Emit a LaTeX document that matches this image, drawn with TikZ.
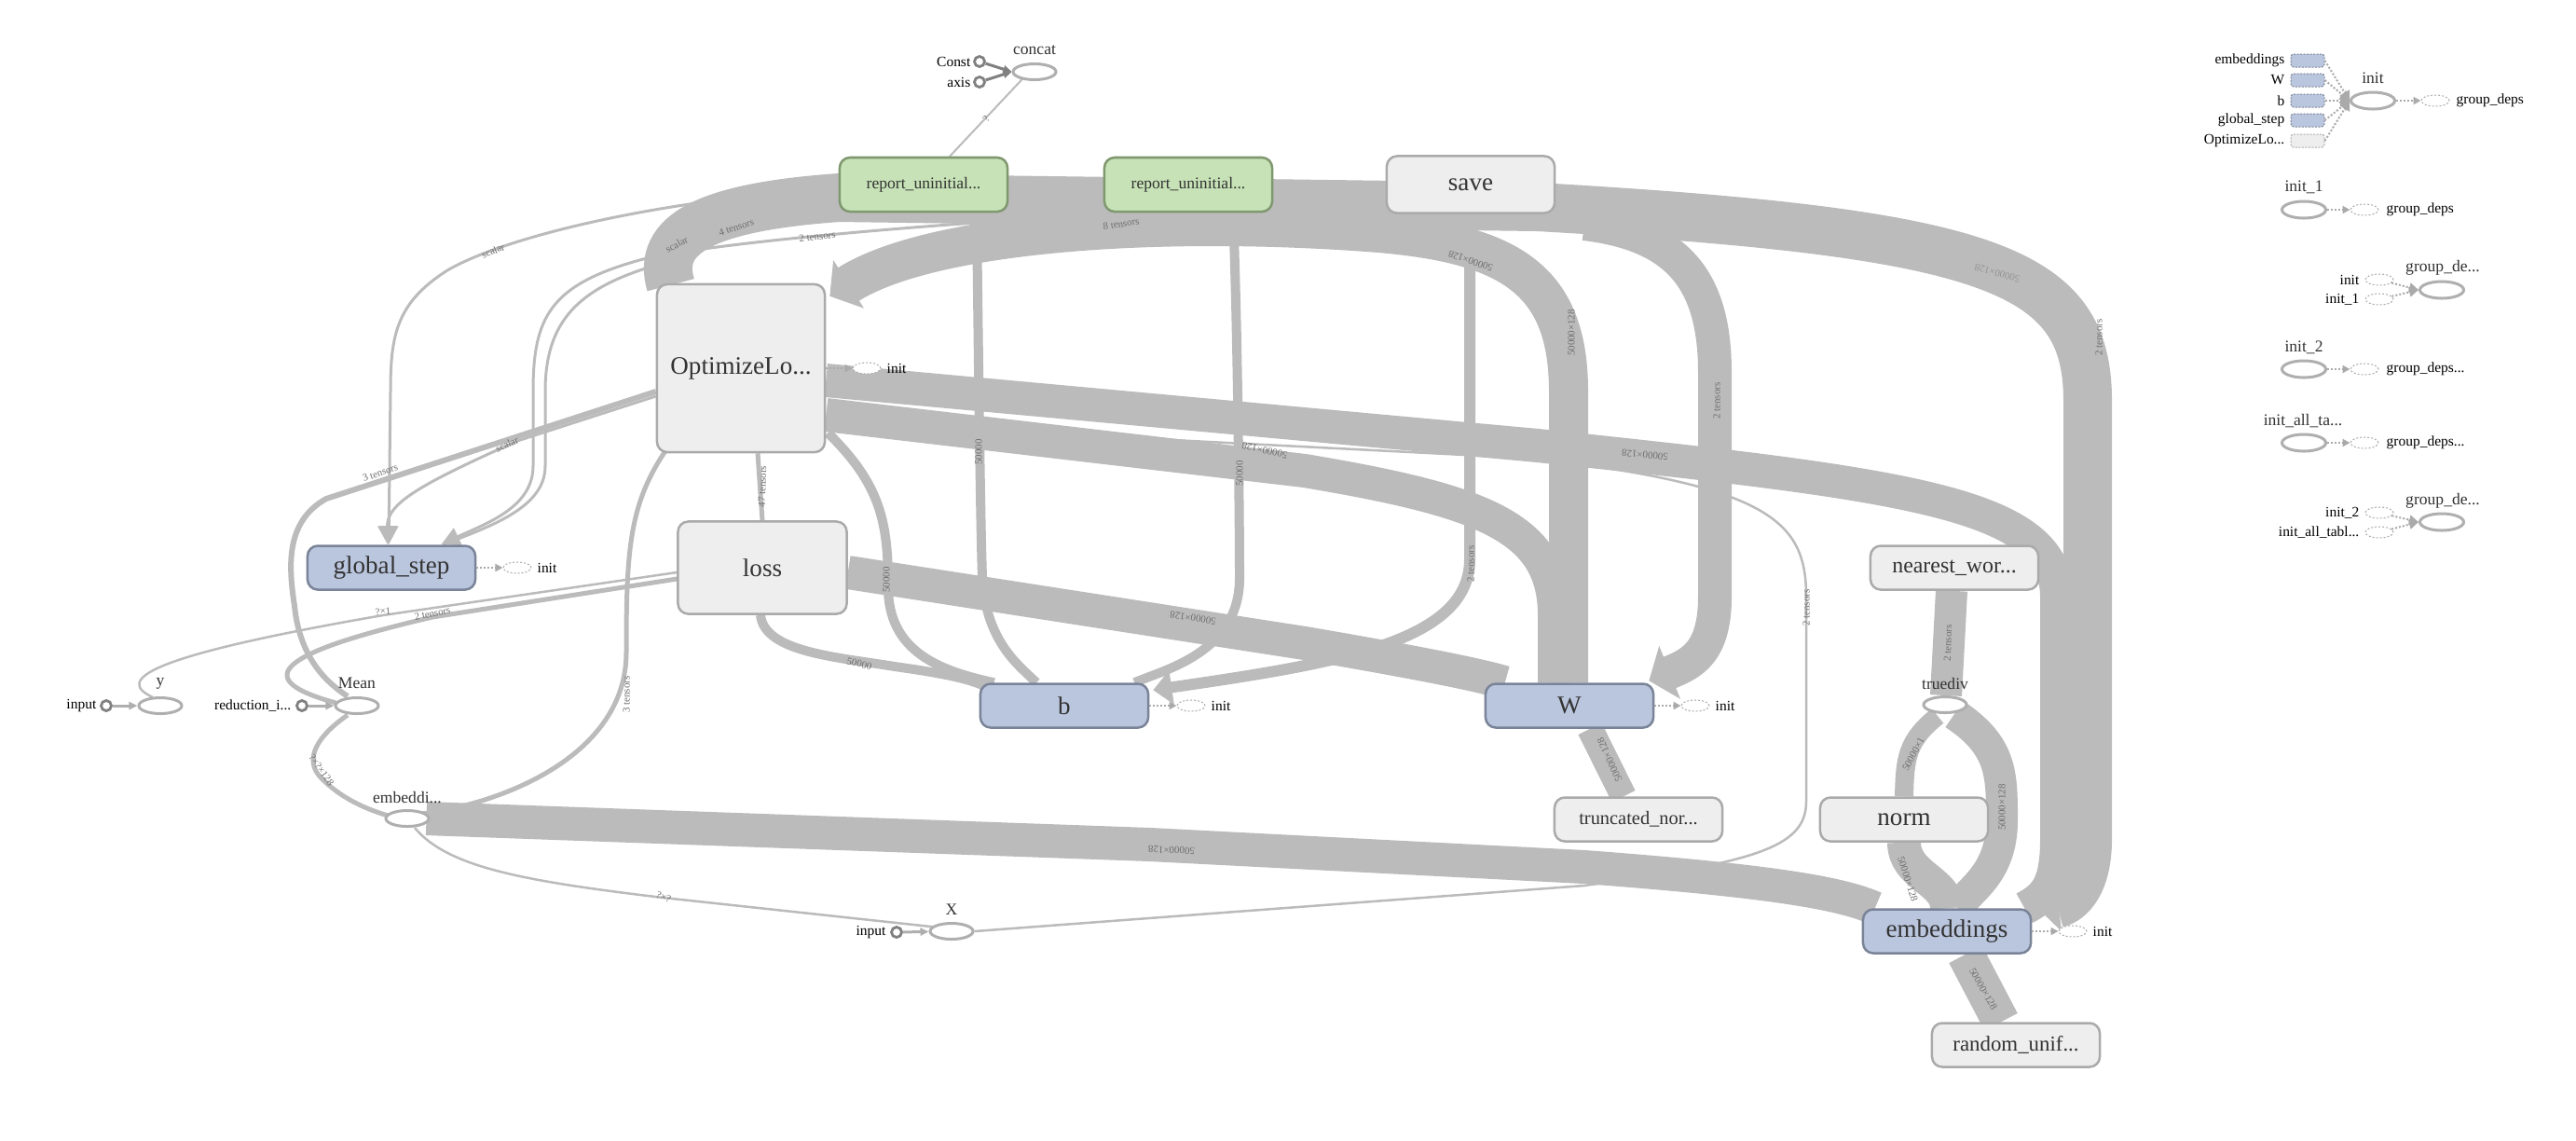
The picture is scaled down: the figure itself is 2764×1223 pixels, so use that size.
\documentclass[tikz,border=0pt]{standalone}
\usepackage{fontspec}
\setmainfont{Liberation Serif}
\usetikzlibrary{arrows.meta,shapes.geometric,backgrounds,calc}
\definecolor{bandgray}{RGB}{187,187,187}
\definecolor{opfill}{RGB}{238,238,238}
\definecolor{opline}{RGB}{170,170,170}
\definecolor{varfill}{RGB}{186,198,222}
\definecolor{varline}{RGB}{122,132,152}
\definecolor{repfill}{RGB}{198,226,182}
\definecolor{repline}{RGB}{128,152,112}
\definecolor{nodetext}{RGB}{51,51,51}
\definecolor{ellline}{RGB}{175,175,175}
\definecolor{dotline}{RGB}{128,128,128}
\definecolor{ctrlgray}{RGB}{170,170,170}
\definecolor{labelgray}{RGB}{110,110,110}

\begin{document}
\begin{tikzpicture}[x=0.01cm, y=-0.01cm,
  opbox/.style={rectangle, rounded corners=0.11cm, draw=opline, fill=opfill,
    line width=0.025cm, text=nodetext, minimum width=1.8cm, minimum height=0.47cm,
    inner sep=0pt, font=\fontsize{7.7}{8}\selectfont},
  varbox/.style={opbox, draw=varline, fill=varfill},
  repbox/.style={opbox, draw=repline, fill=repfill, minimum height=0.58cm,
    font=\fontsize{5}{6}\selectfont},
  opell/.style={ellipse, draw=ellline, fill=white, line width=0.03cm,
    minimum width=0.46cm, minimum height=0.17cm, inner sep=0pt},
  ghost/.style={ellipse, draw=ctrlgray, dash pattern=on 0.02cm off 0.02cm,
    line width=0.01cm, fill=white, minimum width=0.3cm, minimum height=0.12cm, inner sep=0pt},
  cdot/.style={circle, draw=dotline, fill=white, line width=0.028cm,
    minimum size=0.11cm, inner sep=0pt},
  depbox/.style={rectangle, rounded corners=0.03cm, draw=varline, fill=varfill,
    dash pattern=on 0.02cm off 0.015cm, line width=0.01cm,
    minimum width=0.36cm, minimum height=0.14cm, inner sep=0pt},
  elltxt/.style={text=nodetext, font=\fontsize{5}{6}\selectfont, inner sep=0pt},
  smalltxt/.style={text=black, font=\fontsize{4.4}{5}\selectfont, inner sep=0pt},
  elab/.style={text=labelgray, font=\fontsize{3.1}{3.2}\selectfont, inner sep=0.3pt},
  band/.style={draw=bandgray, line width=#1},
  band/.default=0.35cm,
  bandtip/.style={-{Triangle[length=0.24cm, width=0.6cm]}},
  slim/.style={draw=bandgray, line width=0.03cm},
  dataarr/.style={-{Triangle[length=0.09cm, width=0.08cm]}, draw=ellline, line width=0.03cm},
  ctrlarr/.style={-{Triangle[length=0.08cm, width=0.08cm]}, draw=ctrlgray,
    line width=0.02cm, dash pattern=on 0.02cm off 0.02cm},
]
\useasboundingbox (0,0) rectangle (2764,1223);

% main op nodes
\node[opbox, minimum height=1.8cm] (opt) at (795,395) {OptimizeLo...};
\node[opbox, minimum width=1.81cm, minimum height=0.99cm] (loss) at (818,609) {loss};
\node[repbox] (rep1) at (991,198) {report\_uninitial...};
\node[repbox] (rep2) at (1275,198) {report\_uninitial...};
\node[opbox, minimum height=0.61cm] (save) at (1578,198) {save};
\node[varbox] (gstep) at (420,609) {global\_step};
\node[varbox] (b) at (1142,757) {b};
\node[varbox] (W) at (1684,757) {W};
\node[opbox, font=\fontsize{5.8}{6}\selectfont] (trunc) at (1758,879) {truncated\_nor...};
\node[opbox, font=\fontsize{6.8}{7}\selectfont] (near) at (2097,609) {nearest\_wor...};
\node[opbox] (norm) at (2043,879) {norm};
\node[varbox] (emb) at (2089,999) {embeddings};
\node[opbox, font=\fontsize{6.5}{7}\selectfont] (runif) at (2163,1121) {random\_unif...};

% small ops
\node[opell] (concat) at (1110,77) {};
\node[elltxt] (concatlbl) at (1110,54) {concat};
\node[cdot] (const) at (1051,66) {};
\node[smalltxt, anchor=east] (constlbl) at (1042,66) {Const};
\node[cdot] (axis) at (1051,88) {};
\node[smalltxt, anchor=east] (axislbl) at (1042,88) {axis};
\node[opell] (y) at (172,757) {};
\node[elltxt] (ylbl) at (172,733) {y};
\node[cdot] (yin) at (114,757) {};
\node[smalltxt, anchor=east] (yinlbl) at (104,757) {input};
\node[opell] (mean) at (383,757) {};
\node[elltxt] (meanlbl) at (383,733) {Mean};
\node[cdot] (redidx) at (324,757) {};
\node[smalltxt, anchor=east] (redidxlbl) at (313,757) {reduction\_i...};
\node[opell] (embd) at (437,878) {};
\node[elltxt] (embdlbl) at (437,855) {embeddi...};
\node[opell] (X) at (1021,999) {};
\node[elltxt] (Xlbl) at (1021,976) {X};
\node[cdot] (Xin) at (962,1000) {};
\node[smalltxt, anchor=east] (Xinlbl) at (951,1000) {input};
\node[opell] (truediv) at (2087,756) {};
\node[elltxt] (truedivlbl) at (2087,733) {truediv};

% init stubs
\node[ghost] (optinit) at (930,395) {};
\node[smalltxt, anchor=west] (optinitlbl) at (951,395) {init};
\node[ghost] (gsinit) at (555,609) {};
\node[smalltxt, anchor=west] (gsinitlbl) at (576,609) {init};
\node[ghost] (binit) at (1278,757) {};
\node[smalltxt, anchor=west] (binitlbl) at (1299,757) {init};
\node[ghost] (Winit) at (1819,757) {};
\node[smalltxt, anchor=west] (Winitlbl) at (1840,757) {init};
\node[ghost] (embinit) at (2224,999) {};
\node[smalltxt, anchor=west] (embinitlbl) at (2245,999) {init};

% init group, right column
\node[depbox] (dembed) at (2476,65) {};
\node[depbox] (dW) at (2476,86) {};
\node[depbox] (db) at (2476,108) {};
\node[depbox] (dgs) at (2476,129) {};
\node[depbox, draw=opline, fill=opfill] (dopt) at (2476,151) {};
\node[smalltxt, anchor=east] at (2452,65) {embeddings};
\node[smalltxt, anchor=east] at (2452,86) {W};
\node[smalltxt, anchor=east] at (2452,108) {b};
\node[smalltxt, anchor=east] at (2452,129) {global\_step};
\node[smalltxt, anchor=east] at (2452,151) {OptimizeLo...};
\node[opell, minimum width=0.47cm, minimum height=0.18cm] (init) at (2546,108) {};
\node[elltxt] (initlbl) at (2546,84) {init};
\node[ghost] (gd0) at (2613,108) {};
\node[smalltxt, anchor=west] (gd0lbl) at (2635,108) {group\_deps};

\node[opell, minimum width=0.47cm, minimum height=0.18cm] (init1) at (2472,225) {};
\node[elltxt] (init1lbl) at (2472,201) {init\_1};
\node[ghost] (gd1) at (2537,225) {};
\node[smalltxt, anchor=west] (gd1lbl) at (2560,225) {group\_deps};

\node[opell, minimum width=0.47cm, minimum height=0.18cm] (gda) at (2620,311) {};
\node[elltxt] (gdalbl) at (2621,287) {group\_de...};
\node[ghost] (gdain) at (2553,300) {};
\node[smalltxt, anchor=east] (gdainlbl) at (2532,300) {init};
\node[ghost] (gdbin) at (2553,321) {};
\node[smalltxt, anchor=east] (gdbinlbl) at (2532,321) {init\_1};

\node[opell, minimum width=0.47cm, minimum height=0.18cm] (init2) at (2472,396) {};
\node[elltxt] (init2lbl) at (2472,373) {init\_2};
\node[ghost] (gd2) at (2537,396) {};
\node[smalltxt, anchor=west] (gd2lbl) at (2560,396) {group\_deps...};

\node[opell, minimum width=0.47cm, minimum height=0.18cm] (initall) at (2472,475) {};
\node[elltxt] (initalllbl) at (2471,452) {init\_all\_ta...};
\node[ghost] (gd3) at (2537,475) {};
\node[smalltxt, anchor=west] (gd3lbl) at (2560,475) {group\_deps...};

\node[opell, minimum width=0.47cm, minimum height=0.18cm] (gdb) at (2620,560) {};
\node[elltxt] (gdblbl) at (2621,537) {group\_de...};
\node[ghost] (gdcin) at (2553,550) {};
\node[smalltxt, anchor=east] (gdcinlbl) at (2532,550) {init\_2};
\node[ghost] (gddin) at (2553,571) {};
\node[smalltxt, anchor=east] (gddinlbl) at (2532,571) {init\_all\_tabl...};

\coordinate (split) at (1700,240);

\begin{scope}[on background layer]
\fill[white] (0,0) rectangle (2764,1223);
% wide bands
\draw[band=0.52cm, bandtip] ($(opt.north west)+(16,2)$) .. controls (703,250) and (760,222) .. (900,212)
  -- (1650,222) .. controls (2140,250) and (2240,290) .. (2240,430) -- (2240,900)
  .. controls (2240,955) and (2215,968) .. ($(emb.north east)+(4,-2)$);
\draw[band=0.36cm] ($(opt.east)+(0,13)$) -- (1650,478) .. controls (2050,520) and (2207,540) .. (2207,640)
  -- (2207,900) .. controls (2207,950) and (2195,962) .. ($(emb.north east)+(-8,0)$);
\draw[band=0.42cm, bandtip] ($(W.north)+(-1,0)$) -- (1683,420) .. controls (1683,300) and (1620,262) .. (1480,250)
  .. controls (1250,232) and (1000,248) .. ($(opt.north east)+(4,14)$);
\draw[band=0.36cm] ($(opt.east)+(0,50)$) -- (1400,505) .. controls (1590,537) and (1668,565) .. (1668,660)
  -- ($(W.north)+(-16,0)$);
\draw[band=0.36cm] ($(loss.east)+(0,5)$) -- (1400,690) .. controls (1540,714) and (1590,725) .. ($(W.north west)+(22,0)$);
\draw[band=0.36cm, bandtip] (split) .. controls (1800,252) and (1840,300) .. (1840,400) -- (1840,640)
  .. controls (1840,700) and (1815,712) .. ($(W.north east)+(-6,-2)$);
\draw[band=0.36cm] ($(embd.east)+(-4,0)$) -- (1234,906) -- (1700,930) .. controls (1900,945) and (1975,958) .. ($(emb.north west)+(14,0)$);
\draw[band=0.28cm] ($(W.south)+(22,0)$) -- ($(trunc.north)+(-16,0)$);
\draw[band=0.34cm] ($(near.south)+(-3,0)$) -- ($(truediv.north)+(1,0)$);
\draw[band=0.2cm] ($(truediv.south)+(-8,2)$) .. controls (2045,795) and (2044,815) .. (norm.north);
\draw[band=0.34cm] ($(truediv.south)+(10,0)$) .. controls (2148,800) and (2148,830) .. (2148,880)
  .. controls (2148,940) and (2110,955) .. ($(emb.north)+(12,0)$);
\draw[band=0.36cm] (norm.south) .. controls (2043,940) and (2090,945) .. ($(emb.north)+(0,0)$);
\draw[band=0.4cm] ($(emb.south)+(20,0)$) -- ($(runif.north)+(-16,0)$);
% narrow bands
\draw[band=0.1cm] ($(rep1.south)+(57,0)$) .. controls (1050,400) and (1052,560) .. (1054,620)
  .. controls (1058,690) and (1095,715) .. ($(b.north)+(-30,0)$);
\draw[band=0.1cm] ($(rep2.south)+(48,0)$) .. controls (1328,350) and (1330,560) .. (1330,620)
  .. controls (1330,700) and (1250,718) .. ($(b.north east)+(-16,0)$);
\draw[band=0.12cm, -{Triangle[length=0.2cm, width=0.36cm]}] ($(save.south)+(-1,0)$) -- (1577,600)
  .. controls (1577,690) and (1430,712) .. ($(b.north east)+(4,8)$);
\draw[band=0.1cm] ($(loss.south)+(-2,0)$) .. controls (820,700) and (900,705) .. (960,715)
  .. controls (1010,722) and (1040,728) .. ($(b.north west)+(6,4)$);
\draw[band=0.1cm] ($(opt.south east)+(2,-22)$) .. controls (945,520) and (953,560) .. (953,630)
  .. controls (953,700) and (1010,720) .. ($(b.north west)+(16,0)$);
\draw[band=0.05cm] ($(opt.south)+(18,0)$) -- ($(loss.north)+(0,0)$);
\draw[band=0.05cm] ($(opt.south west)+(12,-5)$) .. controls (675,540) and (672,590) .. (672,700)
  .. controls (672,810) and (540,862) .. ($(embd.north east)+(-2,2)$);
\draw[band=0.06cm] ($(opt.west)+(0,25)$) -- (350,535) .. controls (305,560) and (310,610) .. (316,650)
  .. controls (322,710) and (355,735) .. ($(mean.north)+(-10,0)$);
\draw[band=0.05cm] ($(loss.west)+(0,12)$) -- (464,662) .. controls (300,700) and (265,728) .. ($(mean.west)+(2,-3)$);
\draw[band=0.05cm] ($(mean.south)+(-10,0)$) .. controls (340,790) and (325,815) .. (345,835)
  .. controls (370,860) and (400,870) .. ($(embd.west)+(4,-3)$);
% thin edges
\draw[slim, -{Triangle[length=0.2cm, width=0.2cm]}] ($(rep1.west)+(0,4)$) .. controls (700,215) and (540,255) .. (480,290)
  .. controls (425,325) and (419,360) .. (419,420) -- ($(gstep.north)+(-3,0)$);
\draw[slim, -{Triangle[length=0.2cm, width=0.2cm]}] ($(opt.west)+(0,30)$) -- (555,473)
  .. controls (450,520) and (415,540) .. ($(gstep.north)+(-4,0)$);
\draw[slim, -{Triangle[length=0.2cm, width=0.2cm]}] ($(rep1.south east)+(5,8)$) .. controls (950,245) and (760,262) .. (690,278)
  .. controls (590,305) and (572,340) .. (572,420) -- (572,500) .. controls (572,545) and (520,562) .. ($(gstep.north east)+(-38,0)$);
\draw[slim] ($(opt.north west)+(-4,-18)$) .. controls (620,310) and (585,345) .. (585,420) -- (585,500)
  .. controls (585,545) and (525,565) .. ($(gstep.north east)+(-36,0)$);
\draw[slim, line width=0.025cm] ($(loss.west)+(0,5)$) -- (411,660) .. controls (150,705) and (125,730) .. ($(y.north)+(-8,1)$);
\draw[slim, line width=0.025cm] ($(embd.south)+(8,0)$) .. controls (480,930) and (560,945) .. (712,963) -- ($(X.north west)+(4,3)$);
\draw[slim, line width=0.025cm] (X.east) -- (1700,950) .. controls (1880,925) and (1938,910) .. (1938,860) -- (1938,640)
  .. controls (1938,560) and (1900,522) .. (1650,492) -- ($(opt.east)+(0,58)$);
\draw[slim, line width=0.02cm] ($(rep1.north)+(28,0)$) -- ($(concat.south west)+(4,1)$);
\end{scope}

% edge labels
\node[elab, rotate=28] (l01) at (726,262) {scalar};
\node[elab, rotate=18] (l02) at (790,244) {4 tensors};
\node[elab, rotate=6] (l03) at (877,254) {2 tensors};
\node[elab, rotate=8] (l04) at (1203,240) {8 tensors};
\node[elab, rotate=22] (l05) at (529,269) {scalar};
\node[elab, rotate=24] (l06) at (544,477) {scalar};
\node[elab, rotate=19] (l07) at (408,507) {3 tensors};
\node[elab, rotate=88] (l08) at (818,522) {47 tensors};
\node[elab, rotate=6] (l09) at (411,656) {?×1};
\node[elab, rotate=12] (l10) at (464,658) {2 tensors};
\node[elab, rotate=-55] (l11) at (345,826) {?×?×128};
\node[elab, rotate=-22] (l12) at (712,962) {?×?};
\node[elab, rotate=90] (l13) at (672,745) {3 tensors};
\node[elab, rotate=90] (l14) at (951,622) {50000};
\node[elab, rotate=90] (l15) at (1050,485) {50000};
\node[elab, rotate=90] (l16) at (1330,508) {50000};
\node[elab, rotate=-14] (l17) at (922,712) {50000};
\node[elab, rotate=90] (l18) at (1578,605) {2 tensors};
\node[elab, rotate=90] (l19) at (1842,430) {2 tensors};
\node[elab, rotate=90] (l20) at (1938,652) {2 tensors};
\node[elab, rotate=90] (l21) at (2252,362) {2 tensors};
\node[elab, rotate=90] (l22) at (1686,357) {50000×128};
\node[elab, rotate=161] (l23) at (1578,280) {50000×128};
\node[elab, rotate=171] (l24) at (1280,663) {50000×128};
\node[elab, rotate=175] (l25) at (1765,488) {50000×128};
\node[elab, rotate=167] (l26) at (1357,483) {50000×128};
\node[elab, rotate=178] (l27) at (1257,912) {50000×128};
\node[elab, rotate=165, opacity=0.5] (l28) at (2143,293) {50000×128};
\node[elab, rotate=115] (l29) at (1727,815) {50000×128};
\node[elab, rotate=88] (l30) at (2090,690) {2 tensors};
\node[elab, rotate=62] (l31) at (2053,809) {50000×1};
\node[elab, rotate=90] (l32) at (2148,866) {50000×128};
\node[elab, rotate=-72] (l33) at (2047,943) {50000×128};
\node[elab, rotate=-60] (l34) at (2128,1061) {50000×128};
\node[elab, rotate=55] (l35) at (1058,127) {?};

% inputs
\draw[dataarr, draw=dotline] (const) -- (concat.west);
\draw[dataarr, draw=dotline] (axis) -- (concat.west);
\draw[dataarr] (yin) -- (y);
\draw[dataarr] (redidx) -- (mean);
\draw[dataarr] (Xin) -- (X);

% control edges
\draw[ctrlarr] (opt.east) -- (optinit);
\draw[ctrlarr] (gstep.east) -- (gsinit);
\draw[ctrlarr] (b.east) -- (binit);
\draw[ctrlarr] (W.east) -- (Winit);
\draw[ctrlarr] (emb.east) -- (embinit);
\foreach \d in {dembed,dW,db,dgs,dopt}
  \draw[ctrlarr, -{Triangle[length=0.1cm, width=0.12cm]}] (\d.east) -- (init.west);
\draw[ctrlarr] (init) -- (gd0);
\draw[ctrlarr] (init1) -- (gd1);
\draw[ctrlarr, -{Triangle[length=0.1cm, width=0.1cm]}] (gdain) -- (gda.west);
\draw[ctrlarr, -{Triangle[length=0.1cm, width=0.1cm]}] (gdbin) -- (gda.west);
\draw[ctrlarr] (init2) -- (gd2);
\draw[ctrlarr] (initall) -- (gd3);
\draw[ctrlarr, -{Triangle[length=0.1cm, width=0.1cm]}] (gdcin) -- (gdb.west);
\draw[ctrlarr, -{Triangle[length=0.1cm, width=0.1cm]}] (gddin) -- (gdb.west);
\end{tikzpicture}
\end{document}
